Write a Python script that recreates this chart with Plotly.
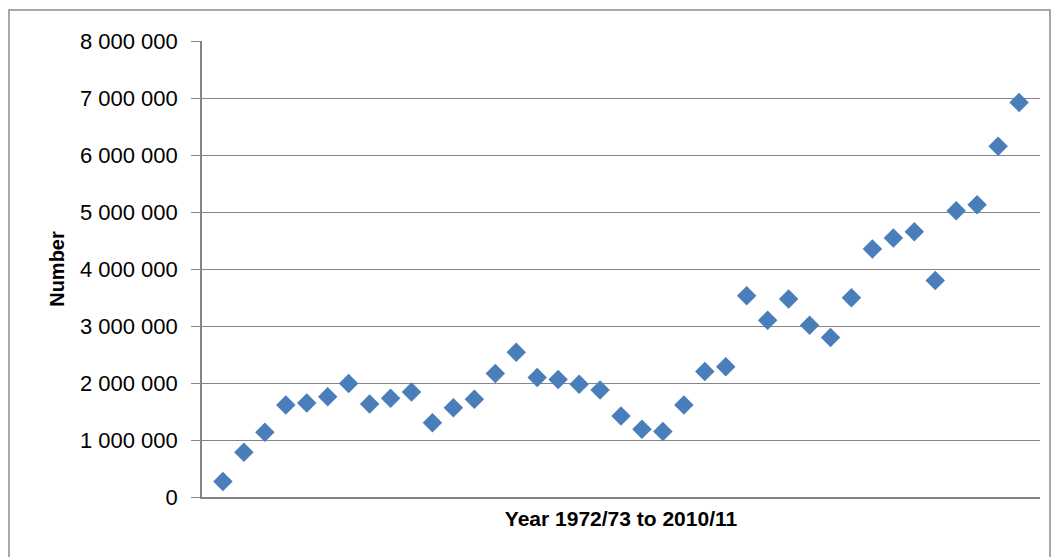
import plotly.graph_objects as go

# Year index 1..39 (1972/73 .. 2010/11)
years = ["1972/73", "1973/74", "1974/75", "1975/76", "1976/77", "1977/78", "1978/79",
         "1979/80", "1980/81", "1981/82", "1982/83", "1983/84", "1984/85", "1985/86",
         "1986/87", "1987/88", "1988/89", "1989/90", "1990/91", "1991/92", "1992/93",
         "1993/94", "1994/95", "1995/96", "1996/97", "1997/98", "1998/99", "1999/00",
         "2000/01", "2001/02", "2002/03", "2003/04", "2004/05", "2005/06", "2006/07",
         "2007/08", "2008/09", "2009/10", "2010/11"]
year_index = list(range(1, len(years) + 1))
numbers = [273000, 787000, 1136000, 1614000, 1649000, 1759000, 1993000,
           1631000, 1731000, 1841000, 1304000, 1566000, 1713000, 2168000,
           2540000, 2098000, 2063000, 1976000, 1876000, 1421000, 1189000,
           1147000, 1614000, 2203000, 2283000, 3531000, 3100000, 3472000,
           3012000, 2797000, 3497000, 4353000, 4545000, 4655000, 3799000,
           5023000, 5128000, 6154000, 6923000]

y_ticks = list(range(0, 8000001, 1000000))
y_tick_text = ["0", "1 000 000", "2 000 000", "3 000 000", "4 000 000",
               "5 000 000", "6 000 000", "7 000 000", "8 000 000"]

FONT = "Liberation Sans, Arial, sans-serif"
GRID = "#858585"

fig = go.Figure(go.Scatter(
    x=year_index, y=numbers, mode="markers",
    text=years,
    marker=dict(symbol="diamond", size=15, color="#4A7EBB"),
    hovertemplate="%{text}: %{y:,}<extra></extra>",
))

fig.update_layout(
    width=1055, height=557,
    margin=dict(l=202, r=15, t=41, b=60),
    paper_bgcolor="white", plot_bgcolor="white",
    showlegend=False,
    font=dict(family=FONT, color="#000000"),
    xaxis=dict(
        range=[0, 40], showticklabels=False, showgrid=False, zeroline=False,
        showline=True, linecolor=GRID, linewidth=1.5, ticks="",
        title=dict(text="<b>Year 1972/73 to 2010/11</b>", font=dict(size=21), standoff=14),
    ),
    yaxis=dict(
        range=[0, 8000000], tickvals=y_ticks, ticktext=y_tick_text,
        tickfont=dict(size=22), showgrid=True, gridcolor=GRID, gridwidth=1.4,
        zeroline=False, showline=True, linecolor=GRID, linewidth=1.6,
        ticks="outside", ticklen=9, tickcolor=GRID, tickwidth=1.4,
        ticklabelstandoff=9,
        title=dict(text="<b>Number</b>", font=dict(size=20), standoff=10),
    ),
    shapes=[dict(type="rect", xref="paper", yref="paper",
                 x0=-193 / 838, x1=1.0 + 10 / 838, y0=-80 / 456, y1=1.0 + 31 / 456,
                 line=dict(color="#8a8a8a", width=1.5), layer="below")],
)

fig.write_html("out.html")
